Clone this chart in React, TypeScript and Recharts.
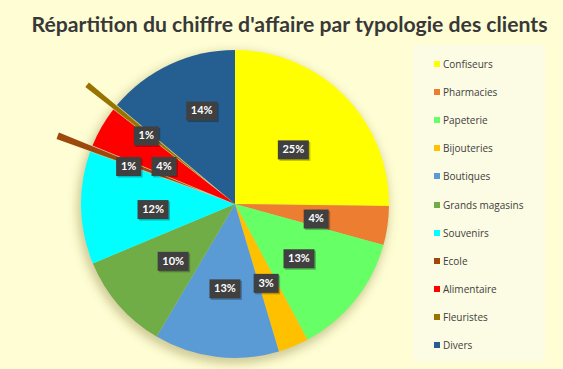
import React from 'react';
import { PieChart, Pie, Cell, Legend } from 'recharts';

const categories = ['Confiseurs', 'Pharmacies', 'Papeterie', 'Bijouteries', 'Boutiques', 'Grands magasins', 'Souvenirs', 'Ecole', 'Alimentaire', 'Fleuristes', 'Divers'];
const values = [25.2, 4.1, 12.9, 3.2, 13.1, 10.2, 11.8, 0.7, 4.3, 0.6, 13.9];
const colors = ['#FFFF00', '#ED7D31', '#66FF66', '#FFC000', '#5B9BD5', '#70AD47', '#00FFFF', '#9E480E', '#FF0000', '#997300', '#255E91'];
const exploded = ['Ecole', 'Fleuristes'];

const data = categories.map((name, i) => ({ name, value: values[i] }));

const W = 563;
const H = 369;
const CX = 235;
const CY = 204;
const R = 154;
const EXPLODE = 36;
const RAD = Math.PI / 180;

// mid angle (recharts convention: counter-clockwise from 3 o'clock) of a slice
const total = values.reduce((a, b) => a + b, 0);
const midAngleOf = (idx: number) => {
  const before = values.slice(0, idx).reduce((a, b) => a + b, 0);
  const mid = (before + values[idx] / 2) / total;
  return 90 - mid * 360;
};

const renderLabel = (props: any) => {
  const { cx, cy, midAngle, percent, index } = props;
  const name = categories[index];
  let r = 82;
  let ang = midAngle;
  if (exploded.includes(name)) r = 78 + EXPLODE;
  if (name === 'Divers') {
    r = 102;
    ang = midAngle - 6;
  }
  const x = cx + r * Math.cos(-ang * RAD);
  const y = cy + r * Math.sin(-ang * RAD) + 3;
  const txt = `${Math.round(percent * 100)}%`;
  const w = txt.length > 2 ? 31 : 25;
  return (
    <g>
      <rect x={x - w / 2 + 1.5} y={y - 9 + 1.5} width={w} height={19} fill="rgba(0,0,0,0.25)" />
      <rect x={x - w / 2} y={y - 9} width={w} height={19} fill="#404040" />
      <text x={x} y={y + 1} textAnchor="middle" dominantBaseline="middle" fill="#fff" fontSize={11} fontWeight="bold" fontFamily="Lato, sans-serif">
        {txt}
      </text>
    </g>
  );
};

const renderLegend = () => (
  <div style={{ width: 132, height: 317, background: '#FCFBE3', boxSizing: 'border-box', paddingTop: 5 }}>
    {categories.map((c, i) => (
      <div key={c} style={{ display: 'flex', alignItems: 'center', height: 28.1, paddingLeft: 21 }}>
        <span style={{ width: 6, height: 6, background: colors[i], marginRight: 3 }} />
        <span style={{ fontFamily: '"Open Sans", sans-serif', fontSize: 10, color: '#404040' }}>{c}</span>
      </div>
    ))}
  </div>
);

export default function App() {
  return (
    <div style={{ position: 'fixed', left: 0, top: 0, width: W, height: H, background: '#FEFDD4', overflow: 'hidden' }}>
      <div style={{ position: 'absolute', left: 0, top: 11, width: W + 16, textAlign: 'center', fontFamily: 'Lato, sans-serif', fontWeight: 'bold', fontSize: 21.2, color: '#383838' }}>
        Répartition du chiffre d'affaire par typologie des clients
      </div>
      <div style={{ position: 'absolute', left: 0, top: 0 }}>
        <PieChart width={W} height={H} margin={{ top: 0, right: 0, bottom: 0, left: 0 }}>
          <defs>
            <filter id="pieShadow" x="-20%" y="-20%" width="140%" height="140%">
              <feGaussianBlur stdDeviation="5" />
            </filter>
          </defs>
          <Pie
            data={[{ name: 'shadow', value: 1 }]}
            dataKey="value"
            cx={CX - 2}
            cy={CY + 4}
            outerRadius={R + 2}
            stroke="none"
            isAnimationActive={false}
            legendType="none"
          >
            <Cell fill="rgba(120,110,40,0.35)" filter="url(#pieShadow)" />
          </Pie>
          <Pie
            data={data}
            dataKey="value"
            nameKey="name"
            cx={CX}
            cy={CY}
            outerRadius={R}
            startAngle={90}
            endAngle={-270}
            stroke="none"
            isAnimationActive={false}
            label={renderLabel}
            labelLine={false}
          >
            {data.map((d, i) => (
              <Cell key={d.name} fill={exploded.includes(d.name) ? 'transparent' : colors[i]} />
            ))}
          </Pie>
          {exploded.map((name) => {
            const idx = categories.indexOf(name);
            const ang = midAngleOf(idx);
            return (
              <Pie
                key={name}
                data={data}
                dataKey="value"
                cx={CX + EXPLODE * Math.cos(-ang * RAD)}
                cy={CY + EXPLODE * Math.sin(-ang * RAD)}
                outerRadius={R}
                startAngle={90}
                endAngle={-270}
                stroke="none"
                isAnimationActive={false}
                legendType="none"
              >
                {data.map((d, i) => (
                  <Cell key={d.name} fill={i === idx ? colors[i] : 'transparent'} />
                ))}
              </Pie>
            );
          })}
          <Legend
            layout="vertical"
            content={renderLegend}
            wrapperStyle={{ left: 413, top: 45, width: 132, height: 317 }}
          />
        </PieChart>
      </div>
    </div>
  );
}
